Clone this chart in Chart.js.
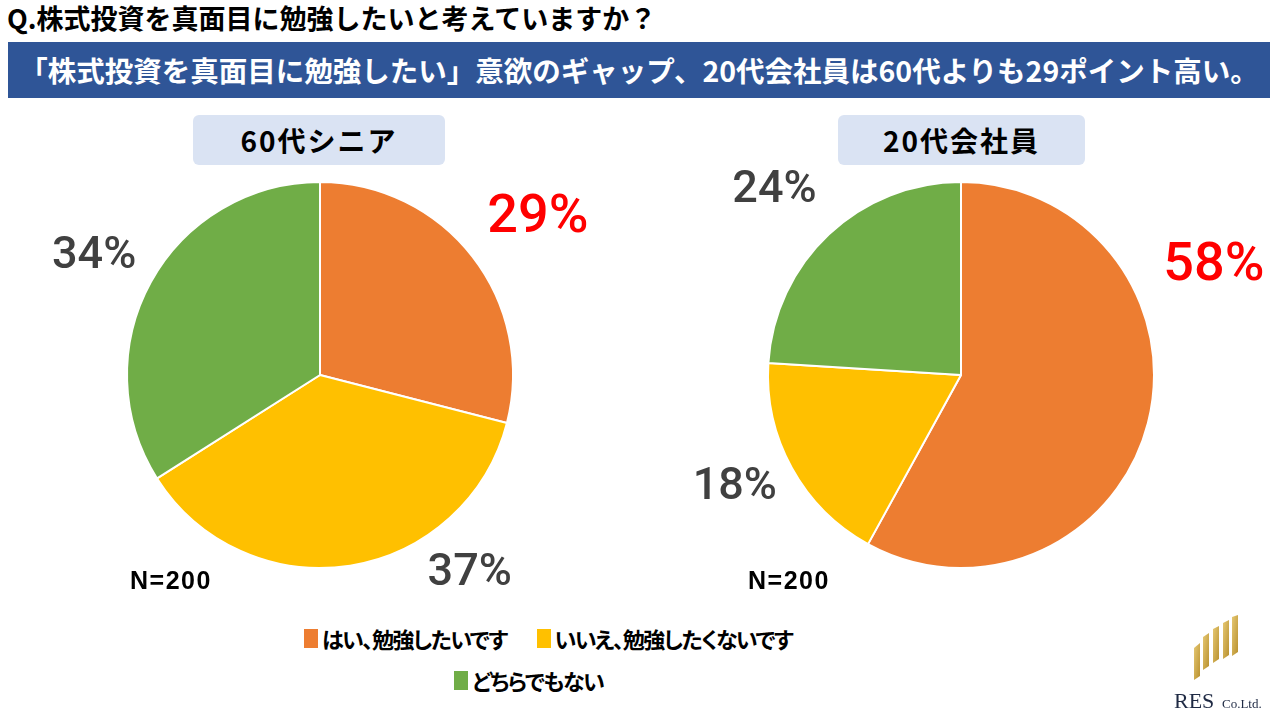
<!DOCTYPE html>
<html lang="ja">
<head>
<meta charset="utf-8">
<script src="https://cdn.jsdelivr.net/npm/chart.js@4.4.1/dist/chart.umd.min.js"></script>
<style>
	body { margin: 0; width: 1280px; height: 720px; background: #fff; position: relative; overflow: hidden;
		font-family: "Noto Sans CJK JP", "Noto Sans", sans-serif; }
	.abs { position: absolute; }
	#question { left: 7px; top: 0px; font-size: 27px; line-height: 36px; font-weight: bold; color: #000; }
	#banner { left: 8px; top: 42px; width: 1262px; height: 56px; background: #2F5597; color: #fff;
		font-size: 28.5px; font-weight: bold; text-align: center; line-height: 56px; white-space: nowrap; }
	.group { top: 115px; height: 50px; line-height: 50px; background: #DAE3F3; border-radius: 6px;
		text-align: center; font-size: 28px; font-weight: bold; letter-spacing: 2px; color: #000; }
	.nlabel { top: 566px; font-size: 25px; line-height: 28px; font-weight: bold; letter-spacing: 1.5px; color: #000;
		font-family: "Liberation Sans", sans-serif; }
	.legend { display: flex; font-size: 22px; line-height: 36px; font-weight: bold; letter-spacing: -1.5px; color: #000;
		font-feature-settings: "palt"; }
	.legend span.sw { display: inline-block; width: 14px; height: 19px; margin-right: 4px; margin-top: 9px; }
	.legend .item { display: flex; margin-right: 30px; }
</style>
</head>
<body>
<div id="question" class="abs"></div>
<div id="banner" class="abs"></div>
<div id="g0" class="abs group" style="left:193px;width:252px"></div>
<div id="g1" class="abs group" style="left:838px;width:247px"></div>
<canvas id="pieSenior" class="abs" style="left:0;top:100px" width="640" height="510"></canvas>
<canvas id="pieWorker" class="abs" style="left:640px;top:100px" width="640" height="510"></canvas>
<div id="n0" class="abs nlabel" style="left:130px"></div>
<div id="n1" class="abs nlabel" style="left:748px"></div>
<div id="legend1" class="abs legend" style="left:304px;top:620px"></div>
<div id="legend2" class="abs legend" style="left:454px;top:662px"></div>

<svg class="abs" style="left:1170px;top:605px" width="110" height="115">
	<defs>
		<linearGradient id="gold" x1="0" y1="0" x2="1" y2="1">
			<stop offset="0" stop-color="#E6C873"/>
			<stop offset="1" stop-color="#B8902E"/>
		</linearGradient>
	</defs>
	<g fill="url(#gold)">
		<polygon points="24,43 30,38 30,71 24,75"/>
		<polygon points="33,32 39,28 39,61 33,65"/>
		<polygon points="43,24 49,21 49,54 43,58"/>
		<polygon points="53,18 59,15 59,50 53,54"/>
		<polygon points="62,12 68,10 68,47 62,51"/>
	</g>
	<text x="4" y="103" font-family="Liberation Serif, serif" font-size="22" fill="#1F2A44">RES</text>
	<text x="52" y="103" font-family="Liberation Serif, serif" font-size="13" fill="#1F2A44">Co.Ltd.</text>
</svg>

<script>
const questionText = "Q.株式投資を真面目に勉強したいと考えていますか？";
const bannerText = "「株式投資を真面目に勉強したい」意欲のギャップ、20代会社員は60代よりも29ポイント高い。";
const categories = ["はい、勉強したいです", "いいえ、勉強したくないです", "どちらでもない"];
const groupNames = ["60代シニア", "20代会社員"];
const seniorValues = [29, 37, 34];
const workerValues = [58, 18, 24];
const sampleLabel = "N=200";
const colors = ["#ED7D31", "#FFC000", "#70AD47"];

document.getElementById("question").textContent = questionText;
document.getElementById("banner").textContent = bannerText;
document.getElementById("g0").textContent = groupNames[0];
document.getElementById("g1").textContent = groupNames[1];
document.getElementById("n0").textContent = sampleLabel;
document.getElementById("n1").textContent = sampleLabel;

// legend: first two on one row, the last one below
function legendItem(i) {
	const d = document.createElement("div");
	d.className = "item";
	const sw = document.createElement("span");
	sw.className = "sw";
	sw.style.background = colors[i];
	d.appendChild(sw);
	d.appendChild(document.createTextNode(categories[i]));
	return d;
}
document.getElementById("legend1").appendChild(legendItem(0));
document.getElementById("legend1").appendChild(legendItem(1));
document.getElementById("legend2").appendChild(legendItem(2));

// percent labels outside of the slices
const outsideLabels = {
	id: "outsideLabels",
	afterDatasetsDraw(chart, args, opts) {
		const ctx = chart.ctx;
		const meta = chart.getDatasetMeta(0);
		const values = chart.data.datasets[0].data;
		meta.data.forEach((arc, i) => {
			const p = arc.getProps(["x", "y", "startAngle", "endAngle", "outerRadius"], true);
			const place = opts.place[i];
			const a = p.startAngle + (p.endAngle - p.startAngle) * place[0];
			const r = p.outerRadius * place[1];
			ctx.save();
			ctx.textAlign = "center";
			ctx.textBaseline = "middle";
			if (i === 0) {
				ctx.fillStyle = "#FF0000";
				ctx.font = "500 54px Roboto";
			} else {
				ctx.fillStyle = "#404040";
				ctx.font = "500 45px Roboto";
			}
			ctx.fillText(values[i] + "%", p.x + Math.cos(a) * r, p.y + Math.sin(a) * r);
			ctx.restore();
		});
	}
};

function drawPie(canvasId, values, padding, place) {
	const ctx = document.getElementById(canvasId);
	new Chart(ctx, {
		type: "pie",
		data: {
			labels: categories,
			datasets: [{
				data: values,
				backgroundColor: colors,
				borderColor: "#ffffff",
				borderWidth: 2
			}]
		},
		options: {
			responsive: false,
			animation: false,
			layout: { padding: padding },
			plugins: {
				legend: { display: false },
				tooltip: { enabled: false },
				outsideLabels: { place: place }
			}
		},
		plugins: [outsideLabels]
	});
}

drawPie("pieSenior", seniorValues, { left: 126, right: 126, top: 81, bottom: 41 },
	[[0.52, 1.39], [0.29, 1.29], [0.49, 1.32]]);
drawPie("pieWorker", workerValues, { left: 127, right: 125, top: 81, bottom: 41 },
	[[0.32, 1.425], [0.535, 1.31], [0.476, 1.36]]);
</script>
</body>
</html>
